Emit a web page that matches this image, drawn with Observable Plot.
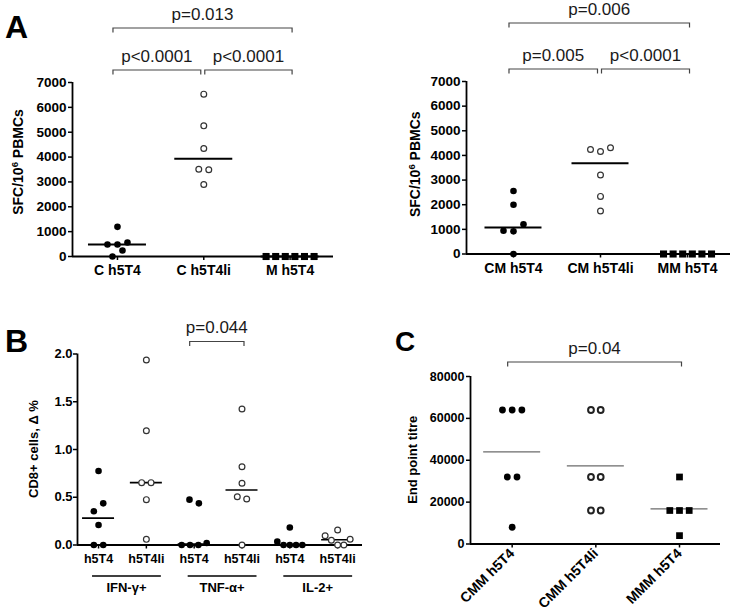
<!DOCTYPE html>
<html><head><meta charset="utf-8">
<script src="https://cdn.jsdelivr.net/npm/d3@7"></script>
<script src="https://cdn.jsdelivr.net/npm/@observablehq/plot@0.6"></script>
<style>
html,body{margin:0;padding:0;background:#fff;}
#fig{position:relative;width:731px;height:610px;overflow:hidden;background:#fff;}
#fig svg{position:absolute;left:0;top:0;}
</style></head><body><div id="fig"></div>
<script>
// ---------------- data ----------------
// Panel A (left)
const catsA1 = ["C h5T4", "C h5T4li", "M h5T4"];
const a1_C_h5T4   = [1193, 483, 483, 563, 0, 241];
const a1_C_h5T4li = [6531, 5257, 4345, 3513, 3487, 2897];
const a1_M_h5T4   = [0, 0, 0, 0, 0, 0];
const pA1 = [
  {a: 0, b: 2, text: "p=0.013", level: 1},
  {a: 0, b: 1, text: "p<0.0001", level: 0},
  {a: 1, b: 2, text: "p<0.0001", level: 0}
];
// Panel A (right)
const catsA2 = ["CM h5T4", "CM h5T4li", "MM h5T4"];
const a2_CM_h5T4   = [2554, 2000, 946, 919, 1203, 0];
const a2_CM_h5T4li = [4243, 4162, 4311, 3203, 2338, 1743];
const a2_MM_h5T4   = [0, 0, 0, 0, 0, 0];
const pA2 = [
  {a: 0, b: 2, text: "p=0.006", level: 1},
  {a: 0, b: 1, text: "p=0.005", level: 0},
  {a: 1, b: 2, text: "p<0.0001", level: 0}
];
const yTicksA = [0, 1000, 2000, 3000, 4000, 5000, 6000, 7000];
const yLabelA = ["SFC/10", "6", " PBMCs"];

// Panel B
const catsB = ["h5T4", "h5T4li", "h5T4", "h5T4li", "h5T4", "h5T4li"];
const groupsB = ["IFN-\u03b3+", "TNF-\u03b1+", "IL-2+"];
const b_IFN_h5T4   = [0.775, 0.353, 0.436, 0.209, 0, 0];
const b_IFN_h5T4li = [1.937, 1.197, 0.653, 0.653, 0.475, 0.059];
const b_TNF_h5T4   = [0.475, 0.436, 0, 0, 0, 0.021];
const b_TNF_h5T4li = [1.424, 0.820, 0.646, 0.506, 0.482, 0];
const b_IL2_h5T4   = [0.184, 0.035, 0, 0, 0, 0];
const b_IL2_h5T4li = [0.157, 0.097, 0.05, 0, 0, 0.06];
const pB = [{a: 2, b: 3, text: "p=0.044", level: 0}];
const yTicksB = [0, 0.5, 1.0, 1.5, 2.0];
const yLabelB = "CD8+ cells, \u0394 %";

// Panel C
const catsC = ["CMM h5T4", "CMM h5T4li", "MMM h5T4"];
const c_CMM_h5T4   = [64000, 64000, 64000, 32000, 32000, 8000];
const c_CMM_h5T4li = [64000, 64000, 32000, 32000, 16000, 16000];
const c_MMM_h5T4   = [32000, 16000, 16000, 16000, 4000];
const pC = [{a: 0, b: 2, text: "p=0.04", level: 0}];
const yTicksC = [0, 20000, 40000, 60000, 80000];
const yLabelC = "End point titre";

// ---------------- drawing ----------------
const W = 731, H = 610;
const FONT = "'Liberation Sans', Arial, Helvetica, sans-serif";
const fig = document.getElementById("fig");

function swarm(values, pxY, o) {
  const idx = d3.range(values.length).sort((a, b) => values[a] - values[b] || a - b);
  const rows = []; let cur = null;
  for (const k of idx) {
    if (!cur || (values[k] - values[cur[0]]) * pxY > o.thresh) { cur = [k]; rows.push(cur); }
    else cur.push(k);
  }
  const off = new Array(values.length).fill(0);
  for (const row of rows) {
    row.sort((a, b) => a - b);
    const n = row.length;
    const sp = n > 1 ? Math.min(o.spacing, o.maxSpread / (n - 1)) : 0;
    row.forEach((k, j) => off[k] = (j - (n - 1) / 2) * sp);
  }
  return off;
}

function panel(cfg) {
  const pxX = (cfg.right - cfg.left) / (cfg.xDomain[1] - cfg.xDomain[0]);
  const pxY = (cfg.bottom - cfg.top) / cfg.yMax;
  const pts = [], sums = [];
  cfg.groups.forEach(g => {
    const off = swarm(g.values, pxY, cfg.swarm);
    g.values.forEach((v, k) => pts.push({x: g.i + off[k] / pxX, y: v, kind: g.kind}));
    sums.push({i: g.i, y: cfg.summary === "mean" ? d3.mean(g.values) : d3.median(g.values)});
  });
  const hw = cfg.lineHalf / pxX;
  const dotMarks = [];
  for (const kind of Object.keys(cfg.markStyles)) {
    const data = pts.filter(p => p.kind === kind);
    if (data.length) dotMarks.push(Plot.dot(data, {x: "x", y: "y", ...cfg.markStyles[kind]}));
  }
  const plot = Plot.plot({
    width: W, height: H,
    marginLeft: cfg.left, marginRight: W - cfg.right,
    marginTop: cfg.top, marginBottom: H - cfg.bottom,
    x: {domain: cfg.xDomain},
    y: {domain: [0, cfg.yMax]},
    style: {background: "transparent", fontFamily: FONT, fontSize: cfg.tickFont + "px",
            fontWeight: "bold", color: "black", overflow: "visible"},
    marks: [
      Plot.axisY({ticks: cfg.yTicks, tickFormat: cfg.yFormat, tickSize: 4, tickPadding: cfg.yPad,
                  strokeWidth: 1.5, label: null, fontSize: cfg.tickFont}),
      Plot.axisX({ticks: cfg.xLabels.map((d, i) => i), tickFormat: (d) => cfg.xLabels[d],
                  tickSize: 4, tickPadding: cfg.xPad, tickRotate: cfg.xRotate || 0,
                  strokeWidth: 1.5, label: null, fontSize: cfg.xFont || cfg.tickFont}),
      Plot.ruleY(sums, {y: "y", x1: d => d.i - hw, x2: d => d.i + hw,
                        stroke: cfg.lineColor, strokeWidth: cfg.lineWidth}),
      Plot.ruleY([0], {stroke: "black", strokeWidth: 1.8}),
      Plot.ruleX([cfg.xDomain[0]], {y1: 0, y2: cfg.yMax, stroke: "black", strokeWidth: 1.8}),
      ...dotMarks
    ]
  });
  fig.appendChild(plot);
  // enforce tick label sizes
  d3.select(plot).selectAll('[aria-label="x-axis tick label"]').attr("font-size", cfg.xFont || cfg.tickFont)
    .selectAll("text").attr("font-size", cfg.xFont || cfg.tickFont);
  d3.select(plot).selectAll('[aria-label="y-axis tick label"]').attr("font-size", cfg.tickFont)
    .selectAll("text").attr("font-size", cfg.tickFont);

  const xs = plot.scale("x"), ys = plot.scale("y");
  const sx = d3.scaleLinear(xs.domain, xs.range);
  const sy = d3.scaleLinear(ys.domain, ys.range);
  const g = d3.select(plot).append("g");

  // significance brackets
  for (const br of cfg.brackets) {
    const shL = cfg.brackets.some(o => o !== br && o.level === br.level && o.b === br.a);
    const shR = cfg.brackets.some(o => o !== br && o.level === br.level && o.a === br.b);
    const x1 = sx(br.a) + (shL ? 1.5 : -4);
    const x2 = sx(br.b) + (shR ? -2.5 : 2.5);
    const y = cfg.top - cfg.levels[br.level];
    g.append("path").attr("d", `M${x1},${y + 4.5}V${y}H${x2}V${y + 4.5}`)
      .attr("fill", "none").attr("stroke", "#444").attr("stroke-width", 1.2);
    g.append("text").attr("x", (x1 + x2) / 2).attr("y", y - 8.5)
      .attr("text-anchor", "middle").attr("font-family", FONT).attr("font-size", 17)
      .attr("font-weight", "normal").attr("fill", "#1a1a1a").text(br.text);
  }

  // y-axis title
  const fsT = cfg.yTitleSize || 13;
  const yt = g.append("text")
    .attr("transform", `translate(${cfg.yTitleX + fsT * 0.36},${(cfg.top + cfg.bottom) / 2 + (cfg.yTitleDy || 0)}) rotate(-90)`)
    .attr("text-anchor", "middle").attr("font-family", FONT).attr("font-size", fsT)
    .attr("font-weight", "bold").attr("fill", "black");
  if (Array.isArray(cfg.yTitle)) {
    yt.append("tspan").text(cfg.yTitle[0]);
    yt.append("tspan").attr("baseline-shift", "super").attr("font-size", fsT * 0.68).text(cfg.yTitle[1]);
    yt.append("tspan").text(cfg.yTitle[2]);
  } else yt.text(cfg.yTitle);

  // panel letter
  if (cfg.letter) {
    g.append("text").attr("x", cfg.letter.x).attr("y", cfg.letter.y)
      .attr("text-anchor", "start")
      .attr("font-family", FONT).attr("font-size", cfg.letter.size).attr("font-weight", "bold")
      .attr("fill", "black").text(cfg.letter.t);
  }
  return {plot, sx, sy, g};
}

const styleA = {
  filled: {r: 3.3, fill: "black"},
  open: {r: 2.9, fill: "white", stroke: "#333", strokeWidth: 1.2},
  square: {symbol: "square", r: 4, fill: "black"}
};

// Panel A left
panel({
  left: 72, right: 333, top: 82, bottom: 256, xDomain: [-0.521, 2.503], yMax: 7000,
  yTicks: yTicksA, yFormat: "d", xLabels: catsA1, tickFont: 13.5, xFont: 14, yPad: 2, xPad: 5,
  groups: [{i: 0, values: a1_C_h5T4, kind: "filled"}, {i: 1, values: a1_C_h5T4li, kind: "open"},
           {i: 2, values: a1_M_h5T4, kind: "square"}],
  swarm: {thresh: 10, spacing: 10, maxSpread: 48},
  summary: "median", lineHalf: 29, lineColor: "black", lineWidth: 2,
  markStyles: styleA, brackets: pA1, levels: [12, 54],
  yTitle: yLabelA, yTitleX: 18, yTitleDy: -7, yTitleSize: 14,
  letter: {t: "A", x: 5, y: 38, size: 32}
});

// Panel A right
panel({
  left: 466, right: 730, top: 81, bottom: 253.5, xDomain: [-0.54, 2.494], yMax: 7000,
  yTicks: yTicksA, yFormat: "d", xLabels: catsA2, tickFont: 13.5, xFont: 14, yPad: 2, xPad: 5,
  groups: [{i: 0, values: a2_CM_h5T4, kind: "filled"}, {i: 1, values: a2_CM_h5T4li, kind: "open"},
           {i: 2, values: a2_MM_h5T4, kind: "square"}],
  swarm: {thresh: 10, spacing: 10, maxSpread: 48},
  summary: "median", lineHalf: 28.5, lineColor: "black", lineWidth: 2,
  markStyles: styleA, brackets: pA2, levels: [12, 58],
  yTitle: yLabelA, yTitleX: 415, yTitleDy: -3, yTitleSize: 14
});

// Panel B
const pb = panel({
  left: 77, right: 362, top: 353.5, bottom: 544.5, xDomain: [-0.44, 5.52], yMax: 2,
  yTicks: yTicksB, yFormat: ".1f", xLabels: catsB, tickFont: 13, xFont: 12.5, yPad: 1, xPad: 5,
  groups: [{i: 0, values: b_IFN_h5T4, kind: "filled"}, {i: 1, values: b_IFN_h5T4li, kind: "open"},
           {i: 2, values: b_TNF_h5T4, kind: "filled"}, {i: 3, values: b_TNF_h5T4li, kind: "open"},
           {i: 4, values: b_IL2_h5T4, kind: "filled"}, {i: 5, values: b_IL2_h5T4li, kind: "open"}],
  swarm: {thresh: 10, spacing: 9.4, maxSpread: 25},
  summary: "median", lineHalf: 16, lineColor: "black", lineWidth: 1.6,
  markStyles: styleA, brackets: pB, levels: [12],
  yTitle: yLabelB, yTitleX: 33, yTitleSize: 13,
  letter: {t: "B", x: 5, y: 352, size: 32}
});
// group labels under panel B axis
groupsB.forEach((name, k) => {
  const x1 = pb.sx(2 * k) - 6, x2 = pb.sx(2 * k + 1) + 15;
  const y0 = pb.sy(0);
  pb.g.append("line").attr("x1", x1).attr("x2", x2).attr("y1", y0 + 31.5).attr("y2", y0 + 31.5)
    .attr("stroke", "black").attr("stroke-width", 1.5);
  pb.g.append("text").attr("x", (x1 + x2) / 2).attr("y", y0 + 47.5).attr("text-anchor", "middle")
    .attr("font-family", FONT).attr("font-size", 13).attr("font-weight", "bold").text(name);
});

// Panel C
panel({
  left: 470, right: 720, top: 376, bottom: 543.5, xDomain: [-0.498, 2.49], yMax: 80000,
  yTicks: yTicksC, yFormat: "d", xLabels: catsC, tickFont: 12.5, xFont: 14, yPad: 2, xPad: 3, xRotate: -45,
  groups: [{i: 0, values: c_CMM_h5T4, kind: "filled"}, {i: 1, values: c_CMM_h5T4li, kind: "open"},
           {i: 2, values: c_MMM_h5T4, kind: "square"}],
  swarm: {thresh: 10, spacing: 9.7, maxSpread: 40},
  summary: "mean", lineHalf: 28.5, lineColor: "#6b6b6b", lineWidth: 1.3,
  markStyles: {
    filled: {r: 3.4, fill: "black"},
    open: {r: 2.9, fill: "white", stroke: "#222", strokeWidth: 2},
    square: {symbol: "square", r: 3.8, fill: "black"}
  },
  brackets: pC, levels: [14],
  yTitle: yLabelC, yTitleX: 412, yTitleSize: 13,
  letter: {t: "C", x: 395, y: 351, size: 28}
});
</script></body></html>
